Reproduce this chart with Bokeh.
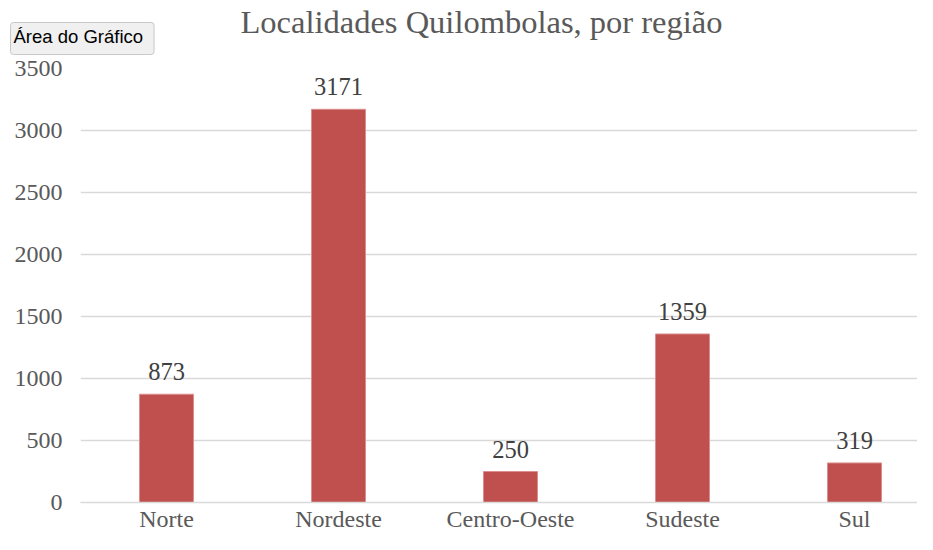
from bokeh.plotting import figure
from bokeh.models import Range1d, FixedTicker, ColumnDataSource, LabelSet, Title
from bokeh.core.properties import value
from bokeh.embed import file_html
from bokeh.resources import INLINE

regions = ["Norte", "Nordeste", "Centro-Oeste", "Sudeste", "Sul"]
counts = [873, 3171, 250, 1359, 319]
y_ticks = [0, 500, 1000, 1500, 2000, 2500, 3000, 3500]
title_text = "Localidades Quilombolas, por região"
tooltip_text = "Área do Gráfico"

xs = [i + 0.5 for i in range(len(regions))]
src = ColumnDataSource(dict(x=xs, top=counts, label=[str(c) for c in counts]))

SERIF = "Liberation Serif"
GRAY = "#595959"

W, H = 917, 534
LEFT, TOP, BOTTOM = 80, 68, 32
STEP = 172  # pixels per category

p = figure(width=W, height=H, output_backend="svg", toolbar_location=None,
           x_range=Range1d(0, (W - LEFT) / STEP), y_range=Range1d(0, 3500),
           min_border_left=LEFT, min_border_right=0, min_border_top=TOP,
           min_border_bottom=BOTTOM)
p.outline_line_color = None
p.background_fill_color = "white"
p.border_fill_color = "white"

p.vbar(x="x", top="top", width=0.314, bottom=0, source=src,
       fill_color="#c0504d", line_color="#d98f8d", line_width=1)

labels = LabelSet(x="x", y="top", text="label", source=src,
                  text_align="center", text_baseline="bottom", y_offset=14,
                  text_font=value(SERIF), text_font_size="24.5px", text_color="#404040")
p.add_layout(labels)

p.xgrid.visible = False
p.ygrid.grid_line_color = "#d9d9d9"
p.ygrid.grid_line_width = 1.5
p.ygrid.ticker = FixedTicker(ticks=y_ticks)

p.yaxis.ticker = FixedTicker(ticks=y_ticks)
p.yaxis.axis_line_color = None
p.yaxis.major_tick_line_color = None
p.yaxis.minor_tick_line_color = None
p.yaxis.major_tick_out = 0
p.yaxis.major_tick_in = 0
p.yaxis.major_label_standoff = 18
p.yaxis.major_label_text_font = SERIF
p.yaxis.major_label_text_font_size = "24px"
p.yaxis.major_label_text_color = GRAY

p.xaxis.ticker = FixedTicker(ticks=xs)
p.xaxis.major_label_overrides = {x: r for x, r in zip(xs, regions)}
p.xaxis.axis_line_color = "#d9d9d9"
p.xaxis.axis_line_width = 1.5
p.xaxis.major_tick_line_color = None
p.xaxis.minor_tick_line_color = None
p.xaxis.major_tick_out = 0
p.xaxis.major_tick_in = 0
p.xaxis.major_label_standoff = 3
p.xaxis.major_label_text_font = SERIF
p.xaxis.major_label_text_font_size = "24px"
p.xaxis.major_label_text_color = GRAY

p.title.text = title_text
p.title.align = "left"
p.title.offset = 160
p.title.text_font = SERIF
p.title.text_font_size = "32.5px"
p.title.text_font_style = "normal"
p.title.text_color = GRAY
p.title.standoff = -66

tip = Title(text=tooltip_text, align="left", offset=-70, standoff=28,
            text_font="Liberation Sans", text_font_size="18.5px", text_color="black",
            text_font_style="normal",
            background_fill_color="#f0f0f0", border_line_color="#c8c8c8",
            padding=(3, 11, 3, 8), border_radius=3)
p.add_layout(tip, "above")

open("out.html", "w").write(file_html(p, INLINE))
